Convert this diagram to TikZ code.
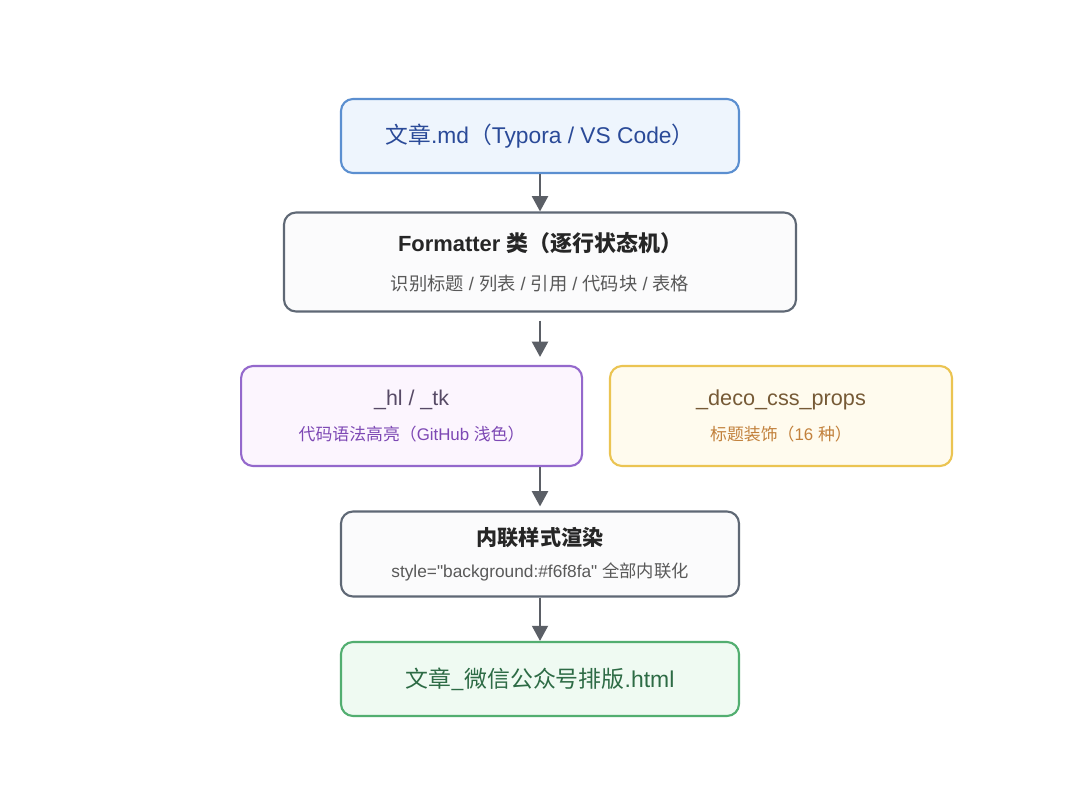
\documentclass[tikz,border=0pt]{standalone}
\usepackage{fontspec}
\setmainfont{Liberation Sans}
\newfontfamily\rawfont{Liberation Sans}
\newfontfamily\cjk{Noto Sans CJK SC}
\newcommand{\zh}[1]{{\cjk #1}}
\usetikzlibrary{arrows.meta}
\definecolor{srcline}{HTML}{5B8FD0}
\definecolor{srcfill}{HTML}{EEF5FD}
\definecolor{srctext}{HTML}{2A4A98}
\definecolor{fmtline}{HTML}{5F6875}
\definecolor{fmtfill}{HTML}{FBFBFC}
\definecolor{hlline}{HTML}{9468CC}
\definecolor{hlfill}{HTML}{FCF5FE}
\definecolor{hltext}{HTML}{574A66}
\definecolor{hlsub}{HTML}{7D48B4}
\definecolor{decoline}{HTML}{EBC452}
\definecolor{decofill}{HTML}{FFFBEE}
\definecolor{decotext}{HTML}{765A36}
\definecolor{decosub}{HTML}{C2813C}
\definecolor{outline}{HTML}{52AE70}
\definecolor{outfill}{HTML}{EFFAF2}
\definecolor{outtext}{HTML}{2D6B45}
\definecolor{arrowgray}{HTML}{5B5F66}

\begin{document}
\begin{tikzpicture}[
    box/.style={draw, rounded corners=0.3cm, line width=1.5pt, align=center, inner sep=0pt},
    link/.style={draw=arrowgray, line width=1.4pt, -{Triangle[length=0.38cm,width=0.4cm]}}
  ]
  \useasboundingbox[fill=white] (0,0) rectangle (27,-19.9);

  \node[box,draw=srcline,fill=srcfill,minimum width=9.95cm,minimum height=1.85cm,
        text=srctext,font=\fontsize{16.2}{19}\selectfont] (src) at (13.5,-3.4)
    {\zh{文章}.md\zh{（}Typora / VS Code\zh{）}};

  \node[box,draw=fmtline,fill=fmtfill,minimum width=12.8cm,minimum height=2.475cm] (fmt) at (13.5,-6.55)
    {{\fontsize{15.6}{18}\selectfont\bfseries\color{black!85}Formatter \zh{类（逐行状态机）}}\\[14pt]
     {\fontsize{13}{15}\selectfont\color{black!65}\zh{识别标题} / \zh{列表} / \zh{引用} / \zh{代码块} / \zh{表格}}};

  \node[box,draw=hlline,fill=hlfill,minimum width=8.525cm,minimum height=2.5cm] (hl) at (10.29,-10.4)
    {{\fontsize{15.2}{17}\selectfont\color{hltext}\_hl / \_tk}\\[11pt]
     {\fontsize{12}{14}\selectfont\color{hlsub}\zh{代码语法高亮（}GitHub \zh{浅色）}}};

  \node[box,draw=decoline,fill=decofill,minimum width=8.55cm,minimum height=2.5cm] (deco) at (19.525,-10.4)
    {{\fontsize{15.4}{17}\selectfont\color{decotext}\_deco\_css\_props}\\[11pt]
     {\fontsize{12}{14}\selectfont\color{decosub}\zh{标题装饰（}16 \zh{种）}}};

  \node[box,draw=fmtline,fill=fmtfill,minimum width=9.95cm,minimum height=2.125cm] (inl) at (13.5,-13.85)
    {{\fontsize{15}{17}\selectfont\bfseries\color{black!85}\zh{内联样式渲染}}\\[10pt]
     {\fontsize{12.3}{14}\selectfont\rawfont\color{black!65}style="background:\#f6f8fa" \zh{全部内联化}}};

  \node[box,draw=outline,fill=outfill,minimum width=9.95cm,minimum height=1.85cm,
        text=outtext,font=\fontsize{16.3}{19}\selectfont] (out) at (13.5,-16.975)
    {\zh{文章\_微信公众号排版}.html};

  % arrows
  \draw[link] (src.south) -- (fmt.north);
  \draw[link,shorten <=0.2cm,shorten >=0.2cm] (fmt.south) -- (fmt.south |- hl.north);
  \draw[link,shorten >=0.1cm] (inl.north |- hl.south) -- (inl.north);
  \draw[link] (inl.south) -- (out.north);
\end{tikzpicture}
\end{document}
